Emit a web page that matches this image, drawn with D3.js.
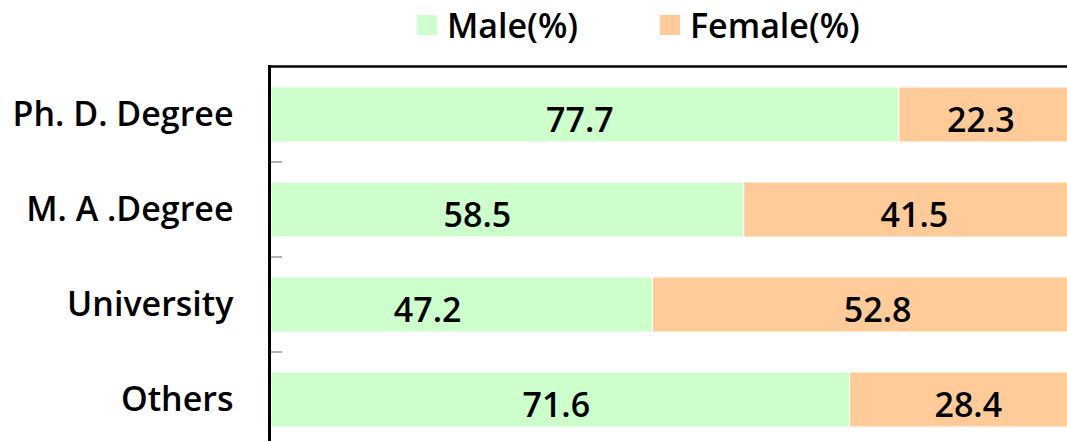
<!DOCTYPE html>
<html>
<head>
    <title>Education by Gender</title>
    <script src="https://d3js.org/d3.v7.min.js"></script>
    <style>
        body { margin: 0; background: #fff; }
        text { font-family: "Open Sans", "Noto Sans", sans-serif; fill: #000; }
        .cat-label { font-size: 34px; font-weight: 600; }
        .val-label { font-size: 34px; font-weight: 600; }
        .legend-label { font-size: 34px; font-weight: 600; }
    </style>
</head>
<body>
    <svg width="1067" height="441"></svg>

    <script>
        const categories = ["Ph. D. Degree", "M. A .Degree", "University", "Others"];
        const male = [77.7, 58.5, 47.2, 71.6];
        const female = [22.3, 41.5, 52.8, 28.4];
        const seriesNames = ["Male(%)", "Female(%)"];
        const colors = ["#CCFFCC", "#FFCC99"];

        const svg = d3.select("svg");

        // plot runs a bit past the right edge of the window
        const x = d3.scaleLinear().domain([0, 100]).range([271, 1079]);
        const y = d3.scaleBand().domain(categories).range([67, 447]).paddingInner(40 / 95).paddingOuter(20 / 95);

        // build stacked rows
        const rows = categories.map((c, i) => ({ cat: c, Male: male[i], Female: female[i] }));
        const stack = d3.stack().keys(["Male", "Female"])(rows);

        // labels were hand-placed in the original, not exactly centred
        const labelShift = [[-5, -30, -34, -4], [-8, 3, 12, 4]];

        const layer = svg.append("g")
            .selectAll("g")
            .data(stack)
            .enter().append("g")
            .attr("fill", (d, i) => colors[i]);

        layer.selectAll("rect")
            .data(d => d)
            .enter().append("rect")
            .attr("x", d => x(d[0]))
            .attr("y", d => y(d.data.cat))
            .attr("width", d => x(d[1]) - x(d[0]))
            .attr("height", y.bandwidth())
            .attr("stroke", "#fff")
            .attr("stroke-width", 1);

        layer.each(function(s, si) {
            d3.select(this).selectAll("text")
                .data(s)
                .enter().append("text")
                .attr("class", "val-label")
                .attr("x", (d, i) => (x(d[0]) + x(d[1])) / 2 + labelShift[si][i])
                .attr("y", d => y(d.data.cat) + y.bandwidth() / 2 + 17)
                .attr("text-anchor", "middle")
                .text(d => (d[1] - d[0]).toFixed(1));
        });

        // category axis
        const axis = svg.append("g")
            .attr("transform", "translate(269.5,0)")
            .call(d3.axisLeft(y).tickSize(0).tickPadding(36));
        axis.select(".domain").remove();
        axis.attr("font-size", null).attr("font-family", null);
        axis.selectAll("text")
            .attr("class", "cat-label")
            .attr("dy", "0.35em");

        // small gray ticks between bands
        const bounds = categories.slice(1).map(c => y(c) - y.step() * y.paddingInner() / 2);
        svg.append("g").selectAll("line")
            .data(bounds)
            .enter().append("line")
            .attr("x1", 271).attr("x2", 282)
            .attr("y1", d => d).attr("y2", d => d)
            .attr("stroke", "#999").attr("stroke-width", 1.5);

        // frame lines
        svg.append("line")
            .attr("x1", 269.5).attr("x2", 269.5)
            .attr("y1", 65).attr("y2", 441)
            .attr("stroke", "#000").attr("stroke-width", 3);
        svg.append("line")
            .attr("x1", 268).attr("x2", 1067)
            .attr("y1", 66.5).attr("y2", 66.5)
            .attr("stroke", "#000").attr("stroke-width", 2.5);

        // legend
        const legendX = [417, 660];
        const legend = svg.append("g")
            .selectAll("g")
            .data(seriesNames)
            .enter().append("g")
            .attr("transform", (d, i) => `translate(${legendX[i]},15)`);
        legend.append("rect")
            .attr("width", 20).attr("height", 20)
            .attr("fill", (d, i) => colors[i]);
        legend.append("text")
            .attr("class", "legend-label")
            .attr("x", 30).attr("y", 23)
            .text(d => d);
    </script>
</body>
</html>
